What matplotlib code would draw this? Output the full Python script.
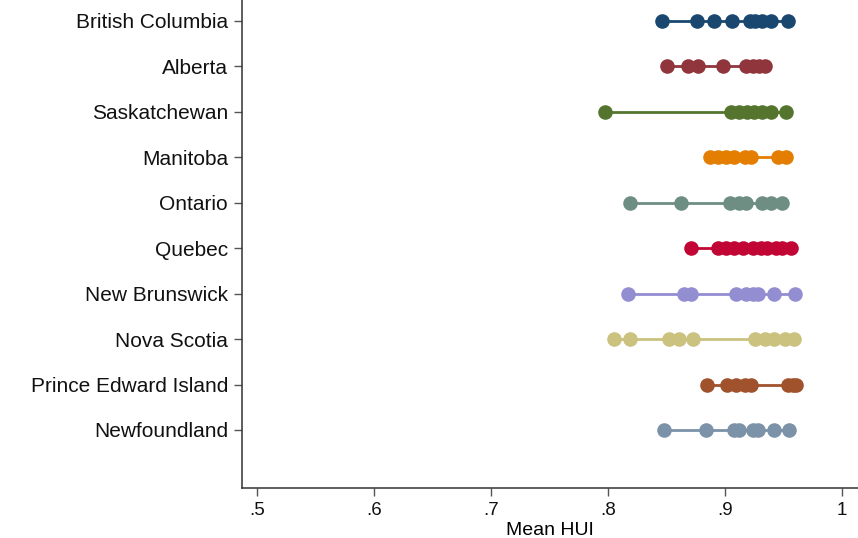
import numpy as np
import matplotlib.pyplot as plt

plt.rcParams['font.family'] = ['Liberation Sans', 'DejaVu Sans']

provinces = ["British Columbia", "Alberta", "Saskatchewan", "Manitoba", "Ontario",
             "Quebec", "New Brunswick", "Nova Scotia", "Prince Edward Island", "Newfoundland"]

bc = [0.846, 0.876, 0.891, 0.906, 0.921, 0.926, 0.932, 0.939, 0.954]
ab = [0.850, 0.868, 0.877, 0.898, 0.918, 0.924, 0.929, 0.934]
sk = [0.797, 0.905, 0.912, 0.919, 0.925, 0.932, 0.939, 0.952]
mb = [0.887, 0.894, 0.901, 0.908, 0.917, 0.922, 0.945, 0.952]
on = [0.819, 0.862, 0.904, 0.912, 0.918, 0.932, 0.939, 0.949]
qc = [0.871, 0.894, 0.901, 0.908, 0.915, 0.924, 0.931, 0.936, 0.944, 0.949, 0.956]
nb = [0.817, 0.865, 0.871, 0.909, 0.918, 0.924, 0.928, 0.942, 0.960]
ns = [0.805, 0.819, 0.852, 0.861, 0.873, 0.926, 0.934, 0.942, 0.951, 0.959]
pei = [0.885, 0.902, 0.909, 0.917, 0.922, 0.954, 0.958, 0.961]
nl = [0.848, 0.884, 0.908, 0.912, 0.924, 0.928, 0.942, 0.955]

values = [bc, ab, sk, mb, on, qc, nb, ns, pei, nl]
colors = ['#1a476f', '#90353b', '#55752f', '#e37e00', '#6e8e84',
          '#c10534', '#938dd2', '#cac27e', '#a0522d', '#7b92a8']

xticks = [0.5, 0.6, 0.7, 0.8, 0.9, 1.0]
xticklabels = ['.5', '.6', '.7', '.8', '.9', '1']

fig = plt.figure(figsize=(8.58, 5.38), dpi=100)
ax = fig.add_axes([0.282, 0.093, 0.718, 0.907])

for i, (vals, c) in enumerate(zip(values, colors)):
    vals = np.sort(vals)
    ax.plot([vals[0], vals[-1]], [i, i], color=c, linewidth=2, zorder=2)
    ax.plot(vals, np.full(len(vals), i), linestyle='none', marker='o',
            markersize=10.5, color=c, markeredgewidth=0, zorder=3)

ax.set_yticks(range(len(provinces)))
ax.set_yticklabels(provinces, fontsize=15)
ax.set_ylim(10.276, -0.462)
ax.set_xticks(xticks)
ax.set_xticklabels(xticklabels, fontsize=13.5)
ax.set_xlim(0.487, 1.0137)
ax.set_xlabel("Mean HUI", fontsize=14, labelpad=2)

for s in ['top', 'right']:
    ax.spines[s].set_visible(False)
for s in ['left', 'bottom']:
    ax.spines[s].set_color('#333333')
    ax.spines[s].set_linewidth(1.1)
ax.tick_params(axis='both', length=6, width=1, color='#555555', labelcolor='#111111', pad=4)

plt.savefig("out.png", dpi=100)
